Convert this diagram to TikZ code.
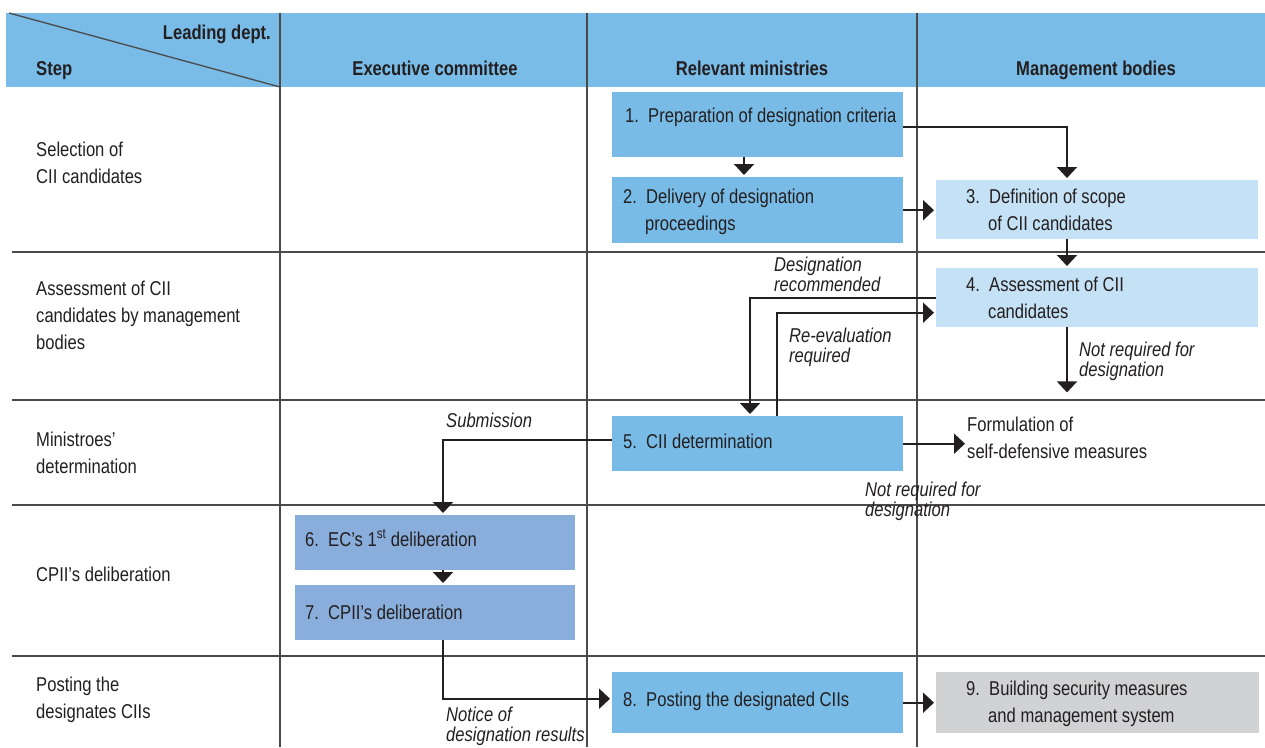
\documentclass[tikz,border=0pt]{standalone}
\usepackage{fontspec}
\setmainfont{Liberation Sans}[FakeStretch=0.83]
\usetikzlibrary{arrows.meta,calc}

\definecolor{ink}{HTML}{231F20}
\definecolor{gridc}{HTML}{4A4A4A}
\definecolor{hdr}{HTML}{79BCE7}
\definecolor{midblue}{HTML}{78BBE6}
\definecolor{ecblue}{HTML}{8AAEDB}
\definecolor{paleblue}{HTML}{C5E1F5}
\definecolor{greybox}{HTML}{D1D2D4}

% stacked lines; the node baseline is that of the first line
\newcommand\twolines[2]{\vtop{\hbox{#1}\hbox{#2}}}
\newcommand\threelines[3]{\vtop{\hbox{#1}\hbox{#2}\hbox{#3}}}
% numbered box text with a hanging second line
\newcommand\numtext[2]{\hbox{\makebox[23pt][l]{#1}#2}}
\newcommand\numtwo[3]{\vtop{\hbox{\makebox[23pt][l]{#1}#2}\hbox{\hspace*{22pt}#3}}}

\begin{document}
\begin{tikzpicture}[x=1pt,y=-1pt,
  every node/.style={text=ink, inner sep=0pt},
  body/.style={font=\fontsize{20}{27}\selectfont, anchor=base west},
  head/.style={font=\fontsize{20}{27}\selectfont\bfseries},
  note/.style={font=\fontsize{20}{20}\selectfont\itshape, anchor=base west},
  stepbox/.style={rectangle, anchor=north west, draw=none, fill=#1},
  grid/.style={draw=gridc, line width=1.3pt},
  arr/.style={draw=ink, line width=2.2pt, -{Triangle[width=20pt,length=11pt]}, shorten >=2pt}
]
\useasboundingbox (0,0) rectangle (1265,747);

% header band
\fill[hdr] (6,13) rectangle (1265,87);

% table rules
\draw[grid] (9,13) -- (280,87);
\foreach \xx in {280,587,917} \draw[grid] (\xx,13) -- (\xx,747);
\foreach \yy in {252,400,505,656} \draw[grid] (12,\yy) -- (1265,\yy);

% header texts
\node[head, anchor=base east] (hlead) at (271,39) {Leading dept.};
\node[head, anchor=base west] (hstep) at (36,75) {Step};
\node[head, anchor=base] (hec) at (435,75) {Executive committee};
\node[head, anchor=base] (hrm) at (752,75) {Relevant ministries};
\node[head, anchor=base] (hmb) at (1096,75) {Management bodies};

% step names
\node[body] (s1) at (36,156) {\twolines{Selection of}{CII candidates}};
\node[body] (s2) at (36,295) {\threelines{Assessment of CII}{candidates by management}{bodies}};
\node[body] (s3) at (36,446) {\twolines{Ministroes’}{determination}};
\node[body] (s4) at (36,581) {CPII’s deliberation};
\node[body] (s5) at (36,691) {\twolines{Posting the}{designates CIIs}};

% process boxes
\node[stepbox=midblue,  minimum width=291pt, minimum height=65pt] (b1) at (612,92) {};
\node[stepbox=midblue,  minimum width=291pt, minimum height=66pt] (b2) at (612,177) {};
\node[stepbox=paleblue, minimum width=322pt, minimum height=59pt] (b3) at (936,180) {};
\node[stepbox=paleblue, minimum width=322pt, minimum height=59pt] (b4) at (936,268) {};
\node[stepbox=midblue,  minimum width=291pt, minimum height=55pt] (b5) at (612,416) {};
\node[stepbox=ecblue,   minimum width=280pt, minimum height=55pt] (b6) at (295,515) {};
\node[stepbox=ecblue,   minimum width=280pt, minimum height=55pt] (b7) at (295,585) {};
\node[stepbox=midblue,  minimum width=291pt, minimum height=61pt] (b8) at (612,672) {};
\node[stepbox=greybox,  minimum width=323pt, minimum height=61pt] (b9) at (936,672) {};

% box texts
\node[body] (t1) at (625,122) {\numtext{1.}{Preparation of designation criteria}};
\node[body] (t2) at (623,203) {\numtwo{2.}{Delivery of designation}{proceedings}};
\node[body] (t3) at (966,203) {\numtwo{3.}{Definition of scope}{of CII candidates}};
\node[body] (t4) at (966,291) {\numtwo{4.}{Assessment of CII}{candidates}};
\node[body] (t5) at (623,448) {\numtext{5.}{CII determination}};
\node[body] (t6) at (305,546) {\numtext{6.}{EC’s 1\textsuperscript{st} deliberation}};
\node[body] (t7) at (305,619) {\numtext{7.}{CPII’s deliberation}};
\node[body] (t8) at (623,706) {\numtext{8.}{Posting the designated CIIs}};
\node[body] (t9) at (966,695) {\numtwo{9.}{Building security measures}{and management system}};

\node[body] (form) at (967,431) {\twolines{Formulation of}{self-defensive measures}};

% connector labels
\node[note] (lrec) at (774,271) {\twolines{Designation}{recommended}};
\node[note] (lre)  at (789,342) {\twolines{Re-evaluation}{required}};
\node[note] (lnr1) at (1079,356) {\twolines{Not required for}{designation}};
\node[note] (lsub) at (446,427) {Submission};
\node[note] (lnr2) at (865,496) {\twolines{Not required for}{designation}};
\node[note] (lnot) at (446,721) {\twolines{Notice of}{designation results}};

% connectors
\coordinate (nr) at ($(b4.south west)+(131,67)$);
\draw[arr] ($(b1.south west)+(132,0)$) -- ($(b2.north west)+(132,0)$);
\draw[arr] ($(b1.east)+(0,2.5)$) -| ($(b3.north west)+(131,0)$);
\draw[arr] (b2.east) -- (b2.east -| b3.west);
\draw[arr] ($(b3.south west)+(131,0)$) -- ($(b4.north west)+(131,0)$);
\draw[arr] (b4.west) -| ($(b5.north west)+(138,0)$);
\draw[arr] ($(b5.north west)+(165,0)$) |- ($(b4.west)+(0,15)$);
\draw[arr] ($(b4.south west)+(131,0)$) -- (nr);
\draw[arr] (b5.east) -- (b5.east -| form.west);
\draw[arr] ($(b5.west)+(0,-4)$) -| ($(b6.north west)+(148,0)$);
\draw[arr] ($(b6.south west)+(148,0)$) -- ($(b7.north west)+(148,0)$);
\draw[arr] ($(b7.south west)+(148,0)$) |- ($(b8.west)+(0,-4)$);
\draw[arr] (b8.east) -- (b8.east -| b9.west);
\end{tikzpicture}
\end{document}
